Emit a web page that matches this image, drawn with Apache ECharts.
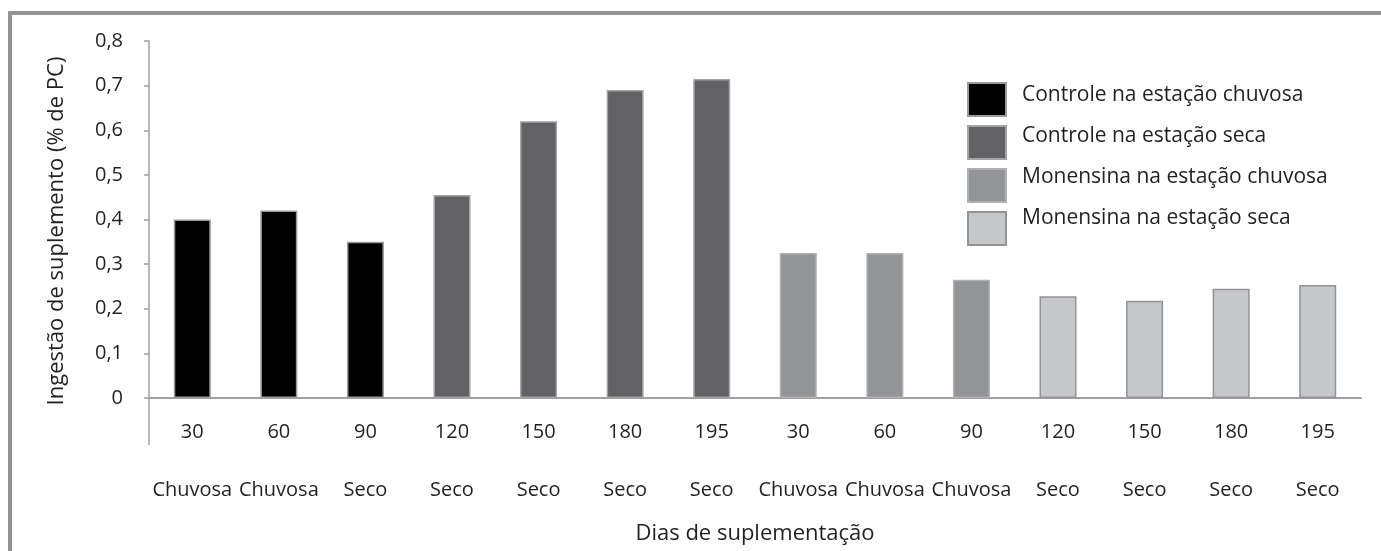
<!DOCTYPE html>
<html>
<head>
<meta charset="utf-8">
<script src="https://cdn.jsdelivr.net/npm/echarts@6/dist/echarts.min.js"></script>
<style>
  html, body { margin: 0; padding: 0; background: #fff; }
  #chart { width: 1381px; height: 551px; }
</style>
</head>
<body>
<div id="chart"></div>
<script>
// Supplement intake (% of body weight) by day and season
const days = ['30', '60', '90', '120', '150', '180', '195', '30', '60', '90', '120', '150', '180', '195'];
const seasons = ['Chuvosa', 'Chuvosa', 'Seco', 'Seco', 'Seco', 'Seco', 'Seco',
                 'Chuvosa', 'Chuvosa', 'Chuvosa', 'Seco', 'Seco', 'Seco', 'Seco'];

const controleChuvosa = [0.40, 0.42, 0.35];            // days 30, 60, 90
const controleSeca = [0.455, 0.62, 0.69, 0.715];        // days 120, 150, 180, 195
const monensinaChuvosa = [0.325, 0.325, 0.265];        // days 30, 60, 90
const monensinaSeca = [0.228, 0.218, 0.245, 0.253];    // days 120, 150, 180, 195

const yTicks = { min: 0, max: 0.8, interval: 0.1 };

// place each group's values at its run of categories
function placed(values, start) {
  const out = new Array(days.length).fill(null);
  values.forEach((v, i) => { out[start + i] = v; });
  return out;
}

const FONT = '"Open Sans", sans-serif';
const TXT = '#231f20';

const groups = [
  { name: 'Controle na estação chuvosa', data: placed(controleChuvosa, 0), color: '#000000', border: '#9b9b9d' },
  { name: 'Controle na estação seca', data: placed(controleSeca, 3), color: '#626264', border: '#a3a3a5' },
  { name: 'Monensina na estação chuvosa', data: placed(monensinaChuvosa, 7), color: '#939496', border: '#b0b0b2' },
  { name: 'Monensina na estação seca', data: placed(monensinaSeca, 10), color: '#c6c7c9', border: '#939395' }
];
const names = groups.map(g => g.name);

const chart = echarts.init(document.getElementById('chart'), null, { renderer: 'canvas' });

// swatches and their captions are laid out as two aligned legend columns,
// so the captions can sit slightly above the swatch centres
const legendBase = {
  orient: 'vertical',
  padding: 0,
  itemHeight: 33,
  itemGap: 8,
  data: names,
  textStyle: { fontFamily: FONT, fontSize: 21, color: TXT, lineHeight: 33 }
};

chart.setOption({
  animation: false,
  backgroundColor: '#ffffff',
  textStyle: { fontFamily: FONT, color: TXT },
  grid: { left: 149, right: 20, top: 41, bottom: 153, containLabel: false },
  legend: [
    Object.assign({}, legendBase, {
      left: 967, top: 82, itemWidth: 38, icon: 'rect',
      formatter: () => ''
    }),
    Object.assign({}, legendBase, {
      left: 1017, top: 79, itemWidth: 0, icon: 'none'
    })
  ],
  xAxis: [
    {
      type: 'category',
      data: days,
      axisLine: { lineStyle: { color: '#a0a0a2', width: 2 } },
      axisTick: { show: false },
      axisLabel: { margin: 24, fontSize: 20, color: TXT, fontFamily: FONT, interval: 0 },
      name: 'Dias de suplementação',
      nameLocation: 'middle',
      nameGap: 125,
      nameTextStyle: { fontSize: 22, color: TXT, fontFamily: FONT }
    },
    {
      type: 'category',
      data: seasons,
      position: 'bottom',
      axisLine: { show: false },
      axisTick: { show: false },
      axisLabel: { margin: 82, fontSize: 20, color: TXT, fontFamily: FONT, interval: 0 }
    }
  ],
  yAxis: {
    type: 'value',
    min: yTicks.min,
    max: yTicks.max,
    interval: yTicks.interval,
    splitLine: { show: false },
    axisLine: { show: true, lineStyle: { color: '#a0a0a2', width: 1.5 } },
    axisTick: { show: true, length: 5, lineStyle: { color: '#a0a0a2', width: 1.5 } },
    axisLabel: {
      margin: 26,
      fontSize: 20,
      color: TXT,
      fontFamily: FONT,
      formatter: v => v.toFixed(1).replace('.', ',').replace(/^0,0$/, '0')
    },
    name: 'Ingestão de suplemento (% de PC)',
    nameLocation: 'middle',
    nameGap: 81,
    nameTextStyle: { fontSize: 22, color: TXT, fontFamily: FONT, padding: [0, 23, 0, 0] }
  },
  series: groups.map(g => ({
    name: g.name,
    type: 'bar',
    stack: 'all',
    xAxisIndex: 0,
    barWidth: 37,
    data: g.data,
    itemStyle: { color: g.color, borderColor: g.border, borderWidth: 1.5 }
  })),
  graphic: [
    // outer frame (top and left edges)
    { type: 'rect', shape: { x: 8, y: 11, width: 1373, height: 4 }, style: { fill: '#939395' }, silent: true },
    { type: 'rect', shape: { x: 8, y: 11, width: 4, height: 540 }, style: { fill: '#939395' }, silent: true },
    // left boundary tick of the category axis
    { type: 'line', shape: { x1: 149, y1: 398, x2: 149, y2: 445 }, style: { stroke: '#a0a0a2', lineWidth: 1.5 }, silent: true }
  ]
});
</script>
</body>
</html>
